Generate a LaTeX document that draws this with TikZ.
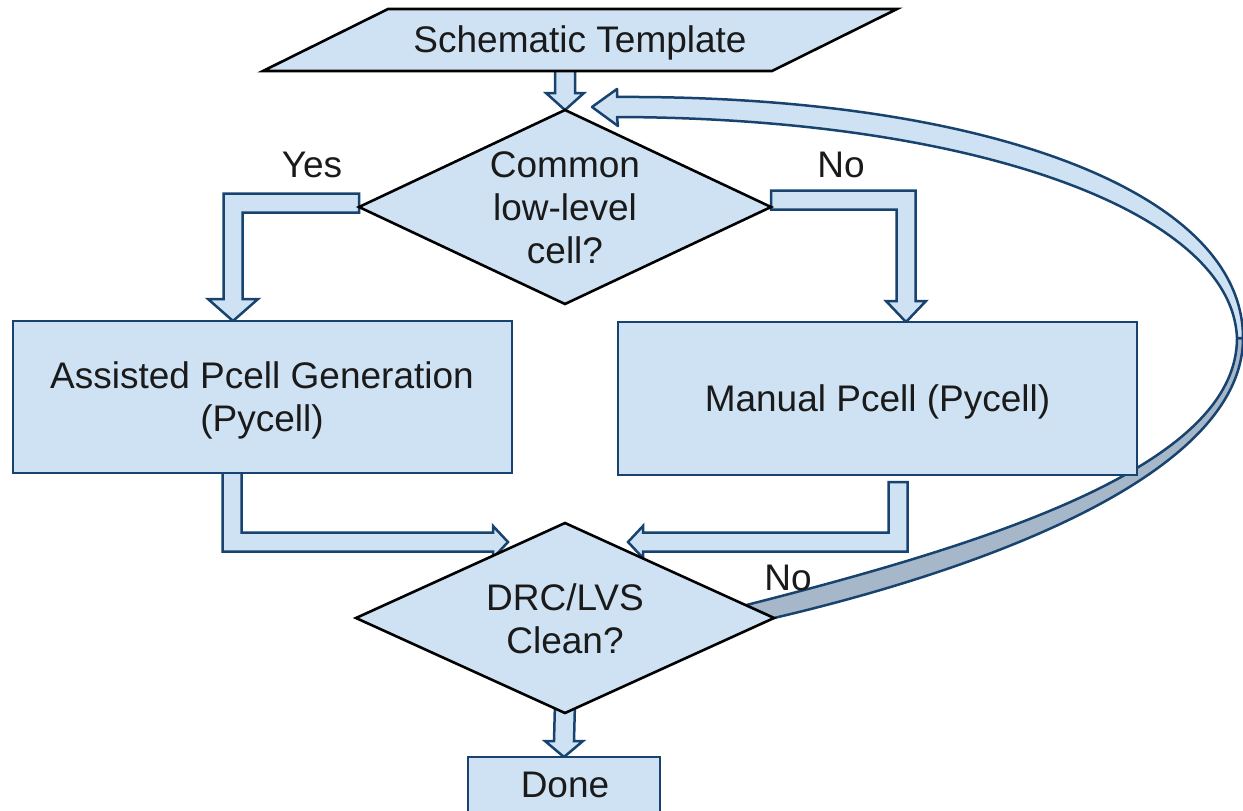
\documentclass[tikz,border=0pt]{standalone}
\usepackage{fontspec}
\setmainfont{Liberation Sans}
\usetikzlibrary{shapes.geometric,calc,backgrounds}
\definecolor{lb}{HTML}{CFE2F3}
\definecolor{nv}{HTML}{17436E}
\definecolor{gb}{HTML}{A6B7C9}
\definecolor{tc}{HTML}{1A1A1A}
\newcommand\blockdown[5]{\draw[barrow] ($(#1)+(-#3,0)$) -- ($(#2)+(-#3,-#5)$) -- ($(#2)+(-#4,-#5)$) -- (#2) -- ($(#2)+(#4,-#5)$) -- ($(#2)+(#3,-#5)$) -- ($(#1)+(#3,0)$) -- cycle;}
\tikzset{
 diam/.style={diamond, draw=black, fill=lb, line width=2.6pt, inner sep=0pt, outer sep=0pt},
 boxs/.style={rectangle, draw=nv, fill=lb, line width=2.6pt, inner sep=0pt, outer sep=0pt},
 para/.style={draw=black, fill=lb, line width=2.6pt, line join=miter},
 barrow/.style={draw=nv, fill=lb, line width=2.5pt, line join=miter},
 rib/.style={draw=nv, line width=2.5pt, line join=round},
 txt/.style={text=tc, font=\fontsize{37}{43}\selectfont, inner sep=0pt, anchor=base},
}
\begin{document}
\begin{tikzpicture}[x=1pt,y=-1pt]
\useasboundingbox (0,0) rectangle (1243,811);
% shapes
\coordinate (pbl) at (263,71);
\coordinate (ptl) at (388,9);
\coordinate (ptr) at (897,9);
\coordinate (pbr) at (772,71);
\draw[para] (pbl) -- (ptl) -- (ptr) -- (pbr) -- cycle;
\node[diam, minimum width=412pt, minimum height=194pt] (d1) at (565,207) {};
\node[boxs, minimum width=499pt, minimum height=152pt] (b1) at (262.5,397) {};
\node[boxs, minimum width=519pt, minimum height=153pt] (b2) at (877.5,398.5) {};
\node[diam, minimum width=418pt, minimum height=190pt] (d2) at (565,618) {};
\node[boxs, minimum width=192pt, minimum height=58pt] (dn) at (564,786) {};
% texts
\node[txt] (st) at (580,52) {Schematic Template};
\node[txt] (d1t) at (565,177) {\begin{tabular}[t]{@{}c@{}}Common\\low-level\\cell?\end{tabular}};
\node[txt] (b1t) at (262,388) {\begin{tabular}[t]{@{}c@{}}Assisted Pcell Generation\\(Pycell)\end{tabular}};
\node[txt] (b2t) at (877.5,411) {Manual Pcell (Pycell)};
\node[txt] (d2t) at (565,610) {\begin{tabular}[t]{@{}c@{}}DRC/LVS\\Clean?\end{tabular}};
\node[txt] (dnt) at (565,797) {Done};
\node[txt] (lyes) at (312,177) {Yes};
\node[txt] (lno1) at (841,177) {No};
\node[txt] (lno2) at (788,590) {No};
\begin{scope}[on background layer]
% loop ribbon
\coordinate (lpS) at (d2.east);
\coordinate (lpSi) at ($(d2.east)!0.135!(d2.north)$);
\coordinate (lpT) at (592,107);
\draw[rib, fill=gb] (lpS) .. controls (1000,565) and (1243,470) .. (1243,338) -- (1237,338) .. controls (1237,466) and (990,543) .. (lpSi) -- cycle;
\draw[rib, fill=lb] (1243,338) .. controls (1243,190) and (980,95) .. (617,97) -- (617,89) -- (lpT) -- (618,126) -- (617,117) .. controls (975,118) and (1232,212) .. (1237,338) -- cycle;
% top arrow
\coordinate (as) at ($(pbl -| d1.north)+(0,-5)$);
\coordinate (at) at (d1.north);
\blockdown{as}{at}{10}{19}{17}
% yes arrow
\coordinate (ys) at ($(d1.west)+(0,-4)$);
\coordinate (yt) at ($(b1.north west)+(220,0)$);
\coordinate (yc) at (yt |- ys);
\draw[barrow] ($(ys)+(0,-9.5)$) -- ($(yc)+(-9.5,-9.5)$) -- ($(yt)+(-9.5,-22)$) -- ($(yt)+(-25,-22)$) -- (yt) -- ($(yt)+(25,-22)$) -- ($(yt)+(9.5,-22)$) -- ($(yc)+(9.5,9.5)$) -- ($(ys)+(0,9.5)$) -- cycle;
% no arrow
\coordinate (ns) at ($(d1.east)+(0,-7)$);
\coordinate (nt) at ($(b2.north west)+(288,0)$);
\coordinate (nc) at (nt |- ns);
\draw[barrow] ($(ns)+(0,-9.5)$) -- ($(nc)+(9.5,-9.5)$) -- ($(nt)+(9.5,-21)$) -- ($(nt)+(20,-21)$) -- (nt) -- ($(nt)+(-20,-21)$) -- ($(nt)+(-9.5,-21)$) -- ($(nc)+(-9.5,9.5)$) -- ($(ns)+(0,9.5)$) -- cycle;
% left box to d2
\coordinate (ls) at ($(b1.south west)+(219,-8)$);
\coordinate (lt) at ($(d2.north)+(-57,19)$);
\coordinate (lc) at (ls |- lt);
\draw[barrow] ($(ls)+(-9.5,0)$) -- ($(lc)+(-9.5,9.5)$) -- ($(lt)+(-15,9.5)$) -- ($(lt)+(-15,16)$) -- (lt) -- ($(lt)+(-15,-16)$) -- ($(lt)+(-15,-9.5)$) -- ($(lc)+(9.5,-9.5)$) -- ($(ls)+(9.5,0)$) -- cycle;
% right box to d2
\coordinate (rs) at ($(b2.south west)+(280,7)$);
\coordinate (rt) at ($(d2.north)+(63,19)$);
\coordinate (rc) at (rs |- rt);
\draw[barrow] ($(rs)+(9.5,0)$) -- ($(rc)+(9.5,9.5)$) -- ($(rt)+(15,9.5)$) -- ($(rt)+(15,16)$) -- (rt) -- ($(rt)+(15,-16)$) -- ($(rt)+(15,-9.5)$) -- ($(rc)+(-9.5,-9.5)$) -- ($(rs)+(-9.5,0)$) -- cycle;
% d2 to done
\coordinate (ds) at ($(d2.south)+(0,-10)$);
\coordinate (dt) at (dn.north);
\blockdown{ds}{dt}{10}{19}{16}
\end{scope}
\end{tikzpicture}
\end{document}
